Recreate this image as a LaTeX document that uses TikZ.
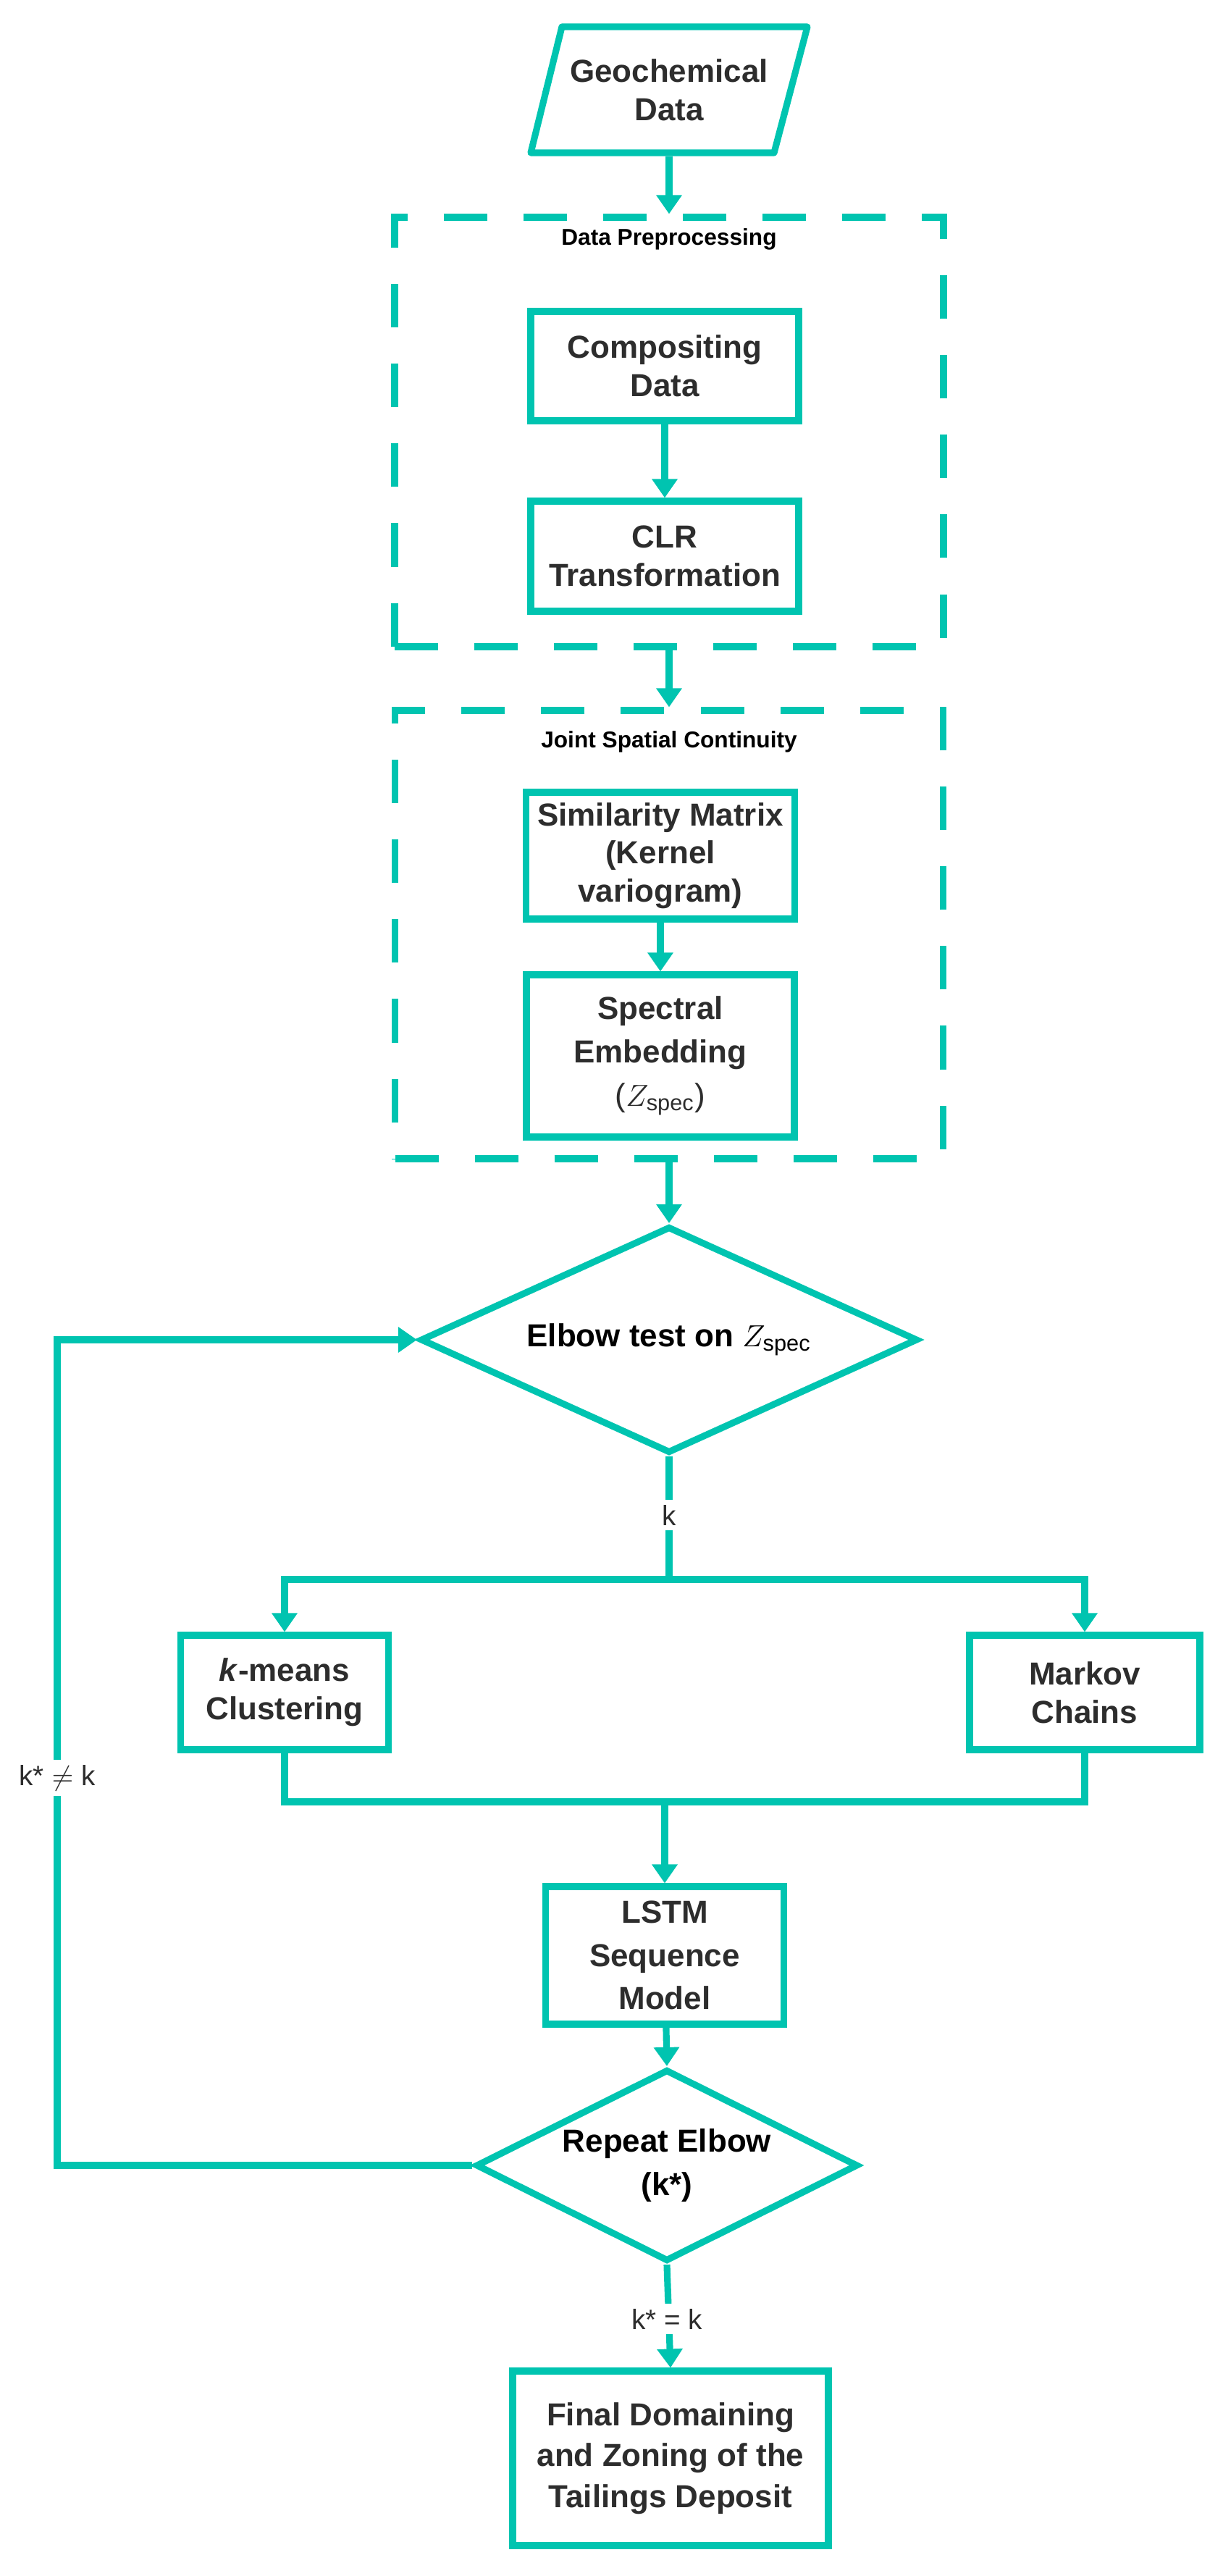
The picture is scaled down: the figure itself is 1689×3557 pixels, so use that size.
\documentclass[tikz,border=0pt]{standalone}
\usepackage{fontspec}
\setmainfont{Liberation Sans}
\usetikzlibrary{shapes.geometric,arrows.meta}
\definecolor{teal1}{RGB}{0,196,176}
\definecolor{txt}{RGB}{45,45,45}
\begin{document}
\begin{tikzpicture}[x=0.01cm,y=-0.01cm,
  line width=2.6pt,
  every node/.style={text=txt,font=\bfseries\fontsize{12.5}{15}\selectfont,align=center},
  box/.style={draw=teal1,line width=2.6pt,rectangle,inner sep=0pt},
  dbox/.style={draw=teal1,line width=2.6pt,dash pattern=on 0.6cm off 0.5cm},
  dia/.style={draw=teal1,line width=2.6pt,diamond,inner sep=0pt},
  arr/.style={draw=teal1,line width=2.6pt,-{Triangle[width=0.34cm,length=0.26cm]}},
  ln/.style={draw=teal1,line width=2.6pt},
  lab/.style={fill=white,inner sep=2pt,font=\fontsize{11}{13}\selectfont},
  grp/.style={font=\bfseries\fontsize{9}{11}\selectfont,text=black}]
\useasboundingbox (0,0) rectangle (1689,3557);
% input parallelogram
\draw[ln,line join=round] (776,37) -- (1115,37) -- (1069,211) -- (733,211) -- cycle;
\node[minimum width=336*0.01cm,minimum height=174*0.01cm,inner sep=0pt] (geo) at (924,124) {Geochemical\\Data};
% group boxes
\node[dbox,minimum width=758*0.01cm,minimum height=593*0.01cm] (g1) at (924,596.5) {};
\node[grp] (g1l) at (924,330) {Data Preprocessing};
\node[dbox,minimum width=757*0.01cm,minimum height=619*0.01cm] (g2) at (924,1290.5) {};
\node[grp] (g2l) at (924,1024) {Joint Spatial Continuity};
% boxes
\node[box,minimum width=370*0.01cm,minimum height=151*0.01cm] (comp) at (918,505.5) {Compositing\\Data};
\node[box,minimum width=370*0.01cm,minimum height=152*0.01cm] (clr) at (918,768) {CLR\\Transformation};
\node[box,minimum width=371*0.01cm,minimum height=175*0.01cm] (sim) at (912,1181.5) {Similarity Matrix\\(Kernel\\variogram)};
\node[box,minimum width=370*0.01cm,minimum height=224*0.01cm,font=\bfseries\fontsize{12.5}{17}\selectfont] (spec) at (912,1458) {Spectral\\Embedding\\\mdseries($Z_{\mathrm{spec}}$)};
\node[dia,minimum width=687*0.01cm,minimum height=313*0.01cm] (elb) at (924,1850) {};
\node[text=black] (elbt) at (924,1850) {Elbow test on $Z_{\mathrm{spec}}$};
\node[box,minimum width=287*0.01cm,minimum height=158*0.01cm] (km) at (393,2337) {\textit{k}-means\\Clustering};
\node[box,minimum width=318*0.01cm,minimum height=158*0.01cm] (mk) at (1498,2337) {Markov\\Chains};
\node[box,minimum width=329*0.01cm,minimum height=190*0.01cm,font=\bfseries\fontsize{12.5}{17}\selectfont] (lstm) at (918,2700) {LSTM\\Sequence\\Model};
\node[dia,minimum width=528*0.01cm,minimum height=265*0.01cm] (rep) at (921,2990) {};
\node[text=black,font=\bfseries\fontsize{12.5}{17}\selectfont] (rept) at (921,2990) {Repeat Elbow\\(k*)};
\node[box,minimum width=436*0.01cm,minimum height=241*0.01cm,font=\bfseries\fontsize{12.5}{16}\selectfont] (fin) at (926,3394.5) {Final Domaining\\and Zoning of the\\Tailings Deposit};
% connectors
\draw[arr] (geo.south) -- (g1.north);
\draw[arr] (comp) -- (clr);
\draw[arr] (g1.south) -- (g2.north);
\draw[arr] (sim) -- (spec);
\draw[arr] (g2.south) -- (elb.north);
\coordinate (br) at (924,2181);
\draw[ln] (elb.south) -- (br);
\node[lab] (kl) at (924,2092) {k};
\draw[arr] (br) -| (km.north);
\draw[arr] (br) -| (mk.north);
\coordinate (mg) at (918,2488);
\draw[ln] (km.south) |- (mg);
\draw[ln] (mk.south) |- (mg);
\draw[arr] (mg) -- (lstm.north);
\draw[arr] (lstm) -- (rep.north);
\coordinate (lp) at (79,2990);
\draw[arr,line join=miter] (rep.west) -- (lp) |- (elb.west);
\node[lab] (kn) at (79,2455) {k* $\neq$ k};
\draw[arr] (rep.south) -- (fin.north);
\node[lab] (ke) at (921,3202) {k* = k};
\end{tikzpicture}
\end{document}
